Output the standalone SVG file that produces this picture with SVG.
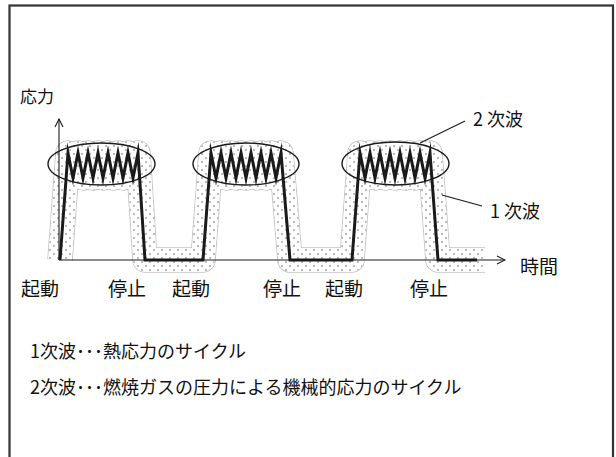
<svg xmlns="http://www.w3.org/2000/svg" width="616" height="457" viewBox="0 0 616 457">
<style>
text{font-family:"Noto Sans CJK JP","Noto Sans",sans-serif;fill:#111}
.lbl{font-size:19px}
.note{font-size:18px}
.thin{stroke:#1a1a1a;stroke-width:1.1;fill:none}
.wave{stroke:#1a1a1a;stroke-width:3;fill:none;stroke-linejoin:miter;stroke-miterlimit:10}
.ell{stroke:#1a1a1a;stroke-width:1.4;fill:none}
</style>
<defs>
<pattern id="dots" patternUnits="userSpaceOnUse" width="8" height="8">
<rect width="8" height="8" fill="#fff"/>
<circle cx="2" cy="2" r="0.75" fill="#555"/>
<circle cx="6" cy="6" r="0.75" fill="#555"/>
</pattern>
<marker id="arr" markerWidth="10" markerHeight="10" refX="9" refY="5" orient="auto" markerUnits="userSpaceOnUse">
<path d="M1,1 L9,5 L1,9" fill="none" stroke="#1a1a1a" stroke-width="1.1"/>
</marker>
<path id="band" d="M60,260 L68,153 l5,25 l5,-25 l5,25 l5,-25 l5,25 l5,-25 l5,25 l5,-25 l5,25 l5,-25 l5,25 l5,-25 l5,25 l5,-25 L145,260 L203,260 L211,153 l5,25 l5,-25 l5,25 l5,-25 l5,25 l5,-25 l5,25 l5,-25 l5,25 l5,-25 l5,25 l5,-25 l5,25 l5,-25 L290,260 L352,260 L360,153 l5,25 l5,-25 l5,25 l5,-25 l5,25 l5,-25 l5,25 l5,-25 l5,25 l5,-25 l5,25 l5,-25 l5,25 l5,-25 L438,260 L485,260"/>
</defs>
<rect x="9.5" y="5.5" width="603.5" height="470" fill="#fff" stroke="#333" stroke-width="2.2"/>
<g id="halo">
<use href="#band" fill="none" stroke="#c4c4c4" stroke-width="25.5" stroke-linejoin="round"/>
<use href="#band" fill="none" stroke="#fff" stroke-width="23.5" stroke-linejoin="round"/>
<use href="#band" fill="none" stroke="url(#dots)" stroke-width="23.5" stroke-linejoin="round"/>
</g>
<g id="axes">
<line class="thin" x1="59" y1="260" x2="59" y2="119" marker-end="url(#arr)"/>
<line class="thin" x1="59" y1="260" x2="505" y2="260" marker-end="url(#arr)"/>
<text x="20" y="103" style="font-size:17px">応力</text>
<text x="520" y="274" class="lbl">時間</text>
</g>
<g id="primary-wave">
<path class="wave" d="M60,260 L68,153 l5,25 l5,-25 l5,25 l5,-25 l5,25 l5,-25 l5,25 l5,-25 l5,25 l5,-25 l5,25 l5,-25 l5,25 l5,-25 L145,260 L203,260 L211,153 l5,25 l5,-25 l5,25 l5,-25 l5,25 l5,-25 l5,25 l5,-25 l5,25 l5,-25 l5,25 l5,-25 l5,25 l5,-25 L290,260 L352,260 L360,153 l5,25 l5,-25 l5,25 l5,-25 l5,25 l5,-25 l5,25 l5,-25 l5,25 l5,-25 l5,25 l5,-25 l5,25 l5,-25 L438,260 L477,260"/>
</g>
<g id="secondary-wave">
<ellipse class="ell" cx="101.5" cy="164" rx="53.5" ry="21"/>
<ellipse class="ell" cx="246" cy="164" rx="53" ry="21"/>
<ellipse class="ell" cx="395.5" cy="163.5" rx="53.5" ry="21.5"/>
</g>
<g id="connectors">
<line class="thin" x1="465" y1="121" x2="420" y2="143"/>
<line class="thin" x1="482" y1="206" x2="442" y2="195"/>
</g>
<g id="label-secondary"><text x="473" y="126" style="font-size:18px">2 次波</text></g>
<g id="label-primary"><text x="490" y="218" style="font-size:18px">1 次波</text></g>
<g id="events">
<text x="21" y="296" class="lbl">起動</text>
<text x="108" y="296" class="lbl">停止</text>
<text x="172" y="296" class="lbl">起動</text>
<text x="263" y="296" class="lbl">停止</text>
<text x="325" y="296" class="lbl">起動</text>
<text x="410" y="296" class="lbl">停止</text>
</g>
<g id="legend">
<text x="30" y="358" class="note">1次波･･･熱応力のサイクル</text>
<text x="30" y="394" class="note">2次波･･･燃焼ガスの圧力による機械的応力のサイクル</text>
</g>
</svg>
